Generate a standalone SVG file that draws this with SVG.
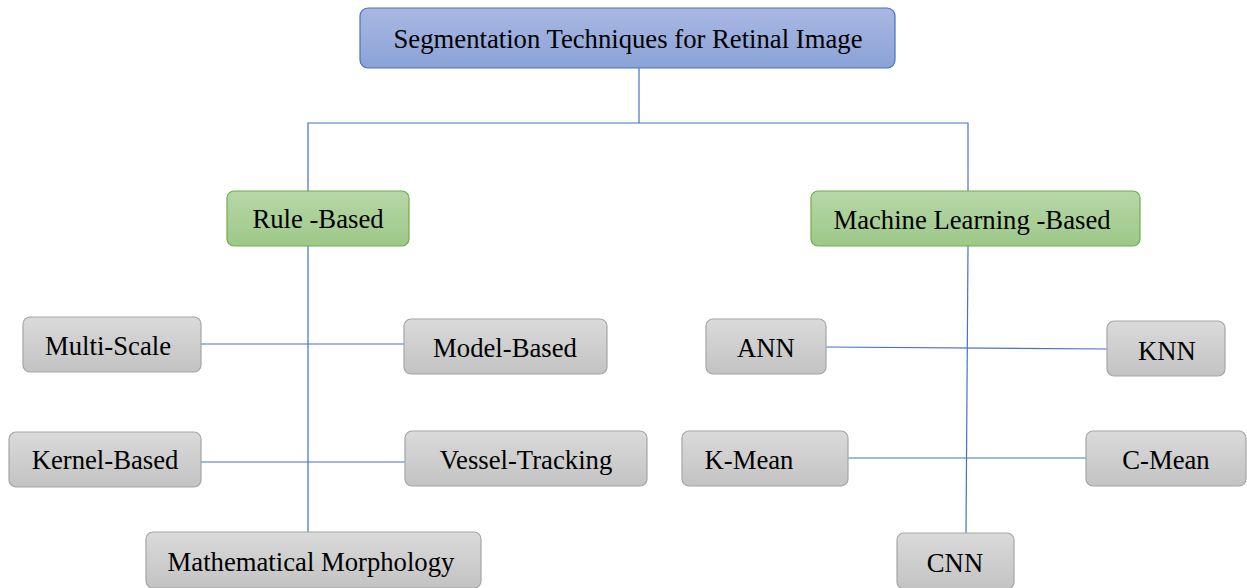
<svg xmlns="http://www.w3.org/2000/svg" width="1247" height="588" viewBox="0 0 1247 588">
  <defs>
    <linearGradient id="gBlue" x1="0" y1="0" x2="0" y2="1">
      <stop offset="0" stop-color="#a9b8e2"/>
      <stop offset="1" stop-color="#8aa2d7"/>
    </linearGradient>
    <linearGradient id="gGreen" x1="0" y1="0" x2="0" y2="1">
      <stop offset="0" stop-color="#b7d7a8"/>
      <stop offset="1" stop-color="#9dc888"/>
    </linearGradient>
    <linearGradient id="gGray" x1="0" y1="0" x2="0" y2="1">
      <stop offset="0" stop-color="#dadada"/>
      <stop offset="1" stop-color="#c3c3c3"/>
    </linearGradient>
  </defs>
  <style>
    .root { fill: url(#gBlue); stroke: #4472c4; stroke-width: 1.2; }
    .cat { fill: url(#gGreen); stroke: #70ad47; stroke-width: 1.2; }
    .leaf { fill: url(#gGray); stroke: #a5a5a5; stroke-width: 1.2; }
    .lbl { font-family: "Liberation Serif", "Times New Roman", serif; font-size: 26.7px; fill: #000; text-anchor: middle; }
    .link { fill: none; stroke: #4472c4; stroke-width: 1.2; }
  </style>
  <rect width="1247" height="588" fill="#ffffff"/>

  <g id="connectors">
    <polyline class="link" points="639,68 639,123"/>
    <polyline class="link" points="308,191 308,123 968,123 968,191"/>
    <line class="link" x1="308" y1="246" x2="308" y2="532"/>
    <line class="link" x1="968" y1="246" x2="966" y2="533"/>
    <line class="link" x1="201" y1="344" x2="404" y2="344"/>
    <line class="link" x1="201" y1="462" x2="405" y2="462"/>
    <line class="link" x1="826" y1="347" x2="1107" y2="349"/>
    <line class="link" x1="848" y1="458" x2="1086" y2="458"/>
  </g>

  <g id="root">
    <rect class="root" x="360" y="8" width="535" height="60" rx="8"/>
    <text class="lbl" x="628" y="48">Segmentation Techniques for Retinal Image</text>
  </g>

  <g id="rule-based">
    <rect class="cat" x="227" y="191" width="182" height="55" rx="7"/>
    <text class="lbl" x="318" y="228">Rule -Based</text>
  </g>

  <g id="ml-based">
    <rect class="cat" x="811" y="191" width="329" height="55" rx="7"/>
    <text class="lbl" x="972" y="229">Machine Learning -Based</text>
  </g>

  <g id="multi-scale">
    <rect class="leaf" x="23" y="317" width="178" height="55" rx="7"/>
    <text class="lbl" x="108" y="355">Multi-Scale</text>
  </g>

  <g id="model-based">
    <rect class="leaf" x="404" y="319" width="203" height="55" rx="7"/>
    <text class="lbl" x="505" y="357">Model-Based</text>
  </g>

  <g id="kernel-based">
    <rect class="leaf" x="9" y="432" width="192" height="55" rx="7"/>
    <text class="lbl" x="105" y="469">Kernel-Based</text>
  </g>

  <g id="vessel-tracking">
    <rect class="leaf" x="405" y="431" width="242" height="55" rx="7"/>
    <text class="lbl" x="526" y="469">Vessel-Tracking</text>
  </g>

  <g id="math-morphology">
    <rect class="leaf" x="146" y="532" width="335" height="56" rx="7"/>
    <text class="lbl" x="311" y="571">Mathematical Morphology</text>
  </g>

  <g id="ann">
    <rect class="leaf" x="706" y="319" width="120" height="55" rx="7"/>
    <text class="lbl" x="766" y="357">ANN</text>
  </g>

  <g id="knn">
    <rect class="leaf" x="1107" y="321" width="118" height="55" rx="7"/>
    <text class="lbl" x="1167" y="360">KNN</text>
  </g>

  <g id="k-mean">
    <rect class="leaf" x="682" y="431" width="166" height="55" rx="7"/>
    <text class="lbl" x="749" y="469">K-Mean</text>
  </g>

  <g id="c-mean">
    <rect class="leaf" x="1086" y="431" width="160" height="55" rx="7"/>
    <text class="lbl" x="1166" y="469">C-Mean</text>
  </g>

  <g id="cnn">
    <rect class="leaf" x="897" y="533" width="117" height="56" rx="7"/>
    <text class="lbl" x="955" y="572">CNN</text>
  </g>
</svg>
